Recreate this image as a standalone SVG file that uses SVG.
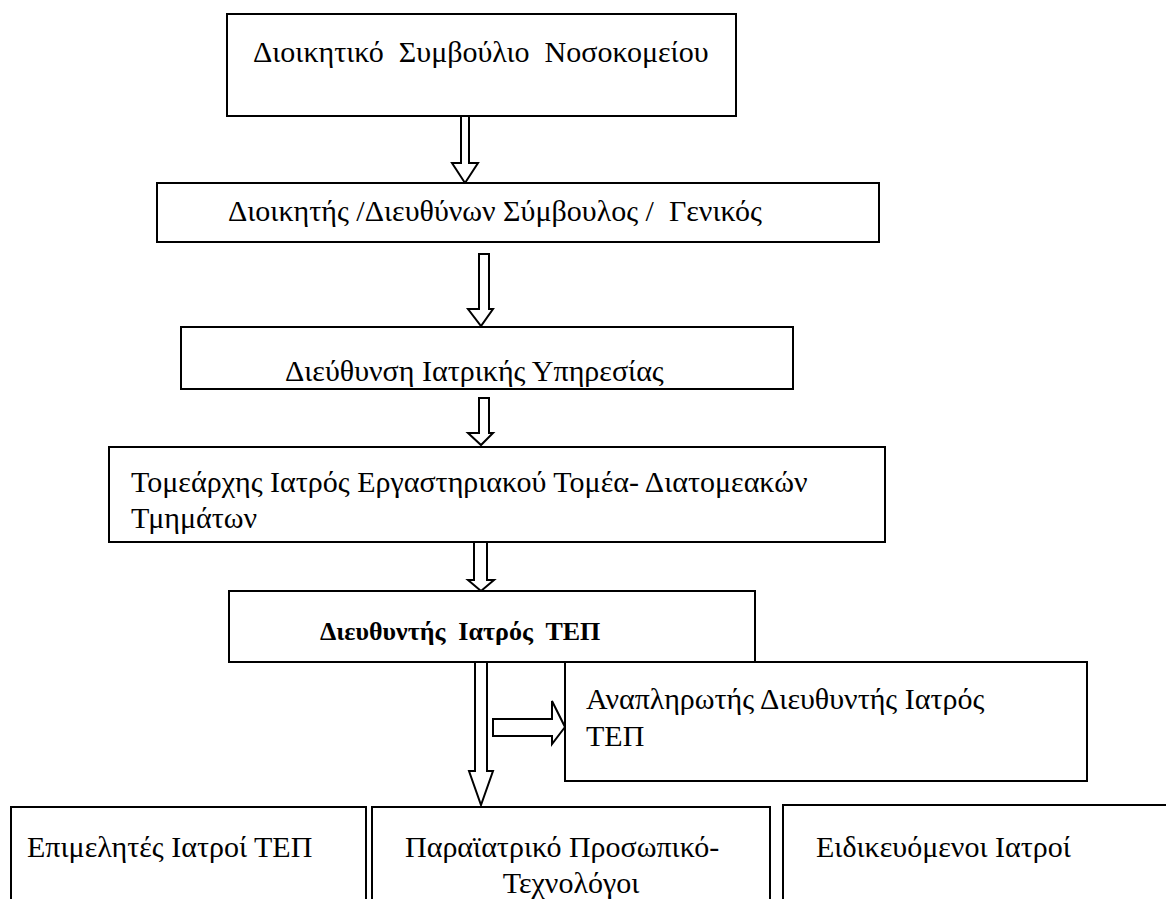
<svg xmlns="http://www.w3.org/2000/svg" width="1166" height="899" viewBox="0 0 1166 899">
<rect width="1166" height="899" fill="#fff"/>
<g id="connectors" fill="#fff" stroke="#000" stroke-width="2">
<path d="M461,116 V163 H452 L465,183 L478,163 H469 V116"/>
<path d="M479,254 V309 H468 L481,326 L493,309 H489 V254 Z"/>
<path d="M479,398 V433 H468 L481,445 L493,433 H489 V398 Z"/>
<path d="M474,542 V580 H468 L481,591 L494,580 H487 V542"/>
<path d="M475,663 V771 H469 L481,805 L493,771 H487 V663"/>
<path d="M493,719 H552 V701 L565,727 L552,744 V736 H493 Z"/>
</g>
<g id="n1"><rect fill="#fff" stroke="#000" stroke-width="2" x="227" y="14" width="509" height="102"/><text style="font-family:'Liberation Serif',serif;font-size:30px" x="253" y="62" xml:space="preserve">Διοικητικό  Συμβούλιο  Νοσοκομείου</text></g>
<g id="n2"><rect fill="#fff" stroke="#000" stroke-width="2" x="157" y="183" width="722" height="59"/><text style="font-family:'Liberation Serif',serif;font-size:30px" x="228" y="221" xml:space="preserve">Διοικητής /Διευθύνων Σύμβουλος /  Γενικός</text></g>
<g id="n3"><rect fill="#fff" stroke="#000" stroke-width="2" x="181" y="327" width="612" height="62"/><text style="font-family:'Liberation Serif',serif;font-size:30px" x="285" y="381">Διεύθυνση Ιατρικής Υπηρεσίας</text></g>
<g id="n4"><rect fill="#fff" stroke="#000" stroke-width="2" x="109" y="447" width="776" height="95"/><text style="font-family:'Liberation Serif',serif;font-size:30px" x="131" y="492">Τομεάρχης Ιατρός Εργαστηριακού Τομέα- Διατομεακών</text><text style="font-family:'Liberation Serif',serif;font-size:30px" x="131" y="528">Τμημάτων</text></g>
<g id="n5"><rect fill="#fff" stroke="#000" stroke-width="2" x="229" y="591" width="526" height="71"/><text style="font-family:'Liberation Serif',serif;font-size:26px;font-weight:bold" x="320" y="640" xml:space="preserve">Διευθυντής  Ιατρός  ΤΕΠ</text></g>
<g id="n6"><rect fill="#fff" stroke="#000" stroke-width="2" x="565" y="662" width="522" height="119"/><text style="font-family:'Liberation Serif',serif;font-size:30px" x="586" y="709">Αναπληρωτής Διευθυντής Ιατρός</text><text style="font-family:'Liberation Serif',serif;font-size:30px" x="586" y="746">ΤΕΠ</text></g>
<g id="n7"><rect fill="#fff" stroke="#000" stroke-width="2" x="11" y="807" width="355" height="110"/><text style="font-family:'Liberation Serif',serif;font-size:30px" x="27" y="857">Επιμελητές Ιατροί ΤΕΠ</text></g>
<g id="n8"><rect fill="#fff" stroke="#000" stroke-width="2" x="372" y="807" width="398" height="110"/><text style="font-family:'Liberation Serif',serif;font-size:30px" x="405" y="857">Παραϊατρικό Προσωπικό-</text><text style="font-family:'Liberation Serif',serif;font-size:30px" x="571" y="893" text-anchor="middle">Τεχνολόγοι</text></g>
<g id="n9"><rect fill="#fff" stroke="#000" stroke-width="2" x="783" y="805" width="400" height="110"/><text style="font-family:'Liberation Serif',serif;font-size:30px" x="816" y="857">Ειδικευόμενοι Ιατροί</text></g>
</svg>
